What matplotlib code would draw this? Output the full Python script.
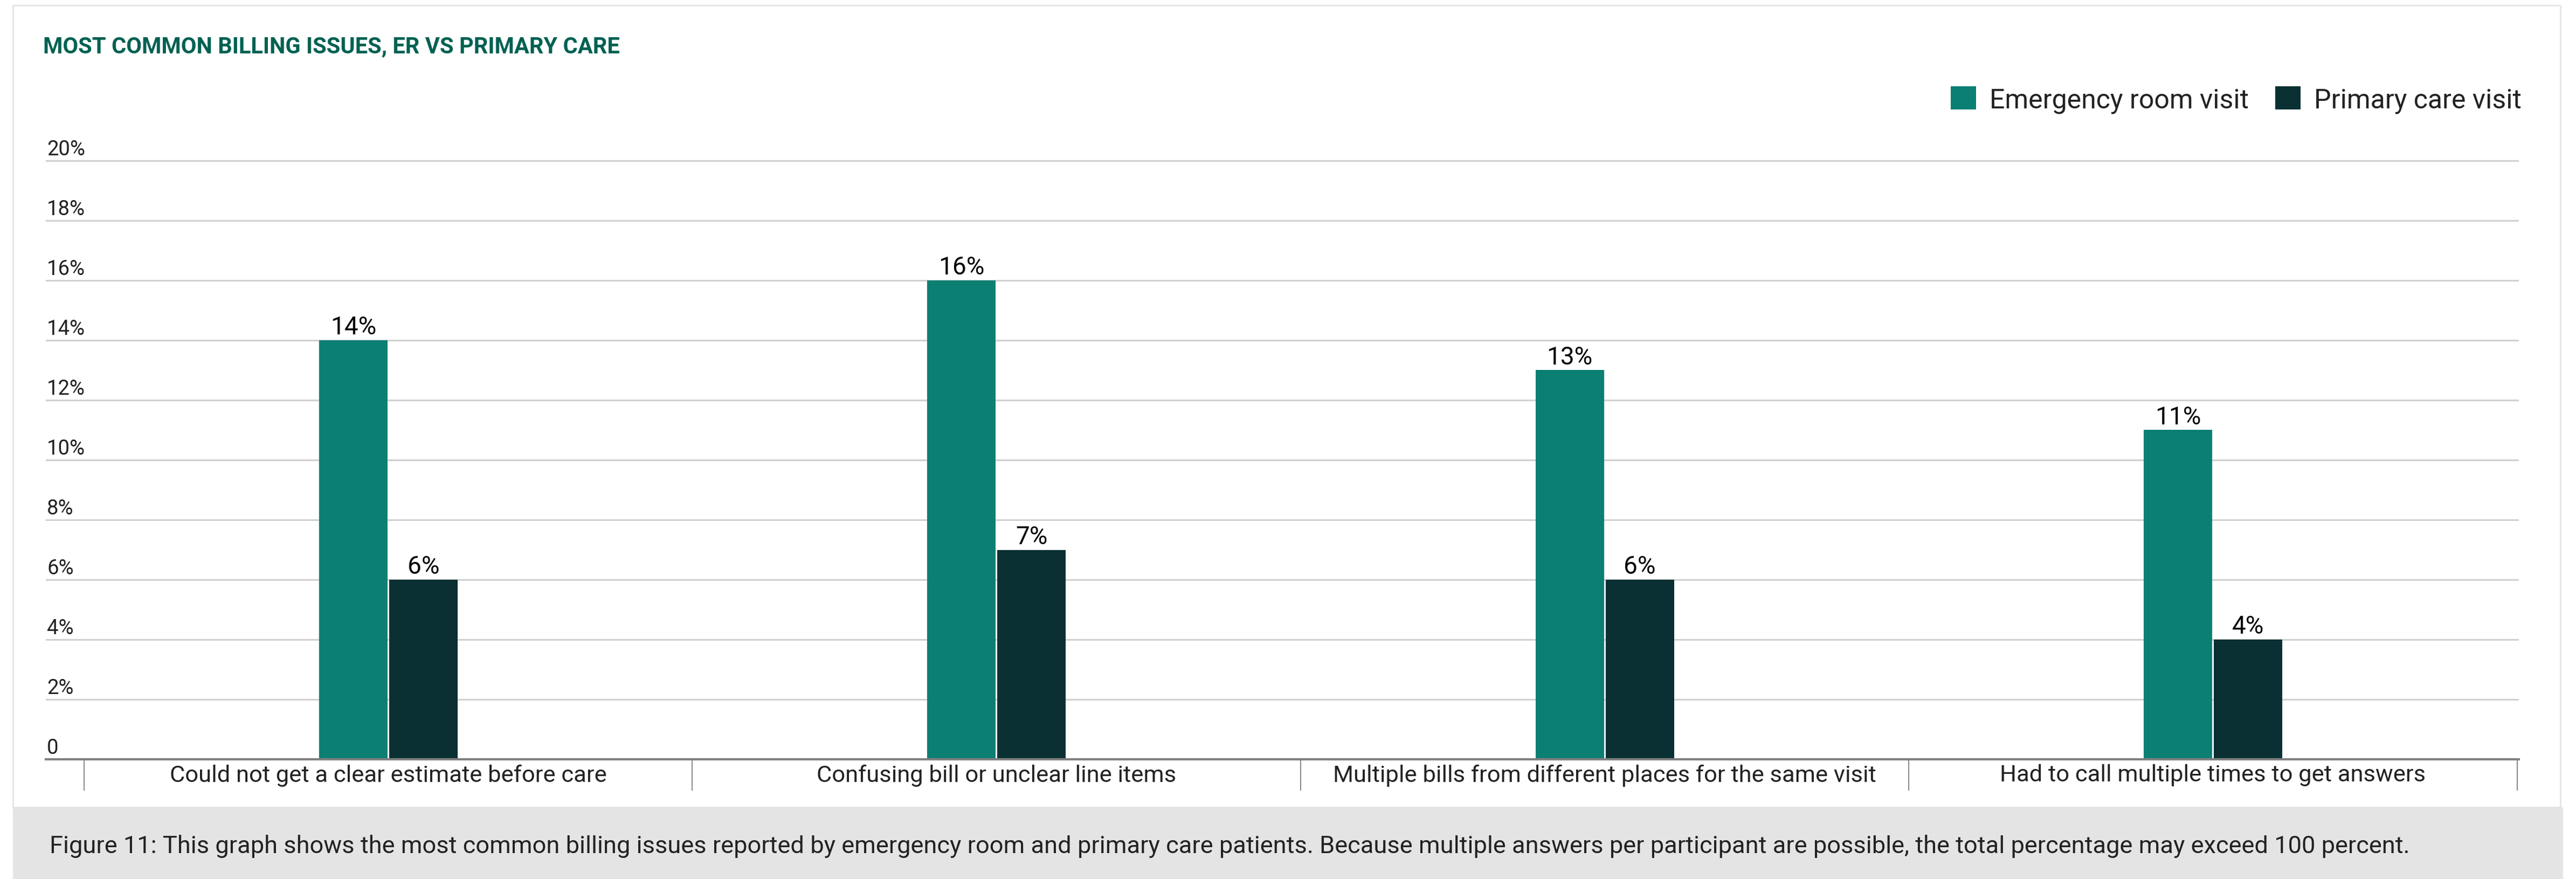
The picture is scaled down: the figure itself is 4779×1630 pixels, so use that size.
import numpy as np
import matplotlib
matplotlib.use("Agg")
import matplotlib.pyplot as plt
import matplotlib.font_manager as fm
from matplotlib.patches import Rectangle

# data
categories = ["Could not get a clear estimate before care",
              "Confusing bill or unclear line items",
              "Multiple bills from different places for the same visit",
              "Had to call multiple times to get answers"]
er_visit = [14, 16, 13, 11]
pc_visit = [6, 7, 6, 4]
series_names = ["Emergency room visit", "Primary care visit"]
y_ticks = [0, 2, 4, 6, 8, 10, 12, 14, 16, 18, 20]
y_tick_labels = ["0", "2%", "4%", "6%", "8%", "10%", "12%", "14%", "16%", "18%", "20%"]
title = "MOST COMMON BILLING ISSUES, ER VS PRIMARY CARE"
caption = ("Figure 11: This graph shows the most common billing issues reported by emergency room "
           "and primary care patients. Because multiple answers per participant are possible, "
           "the total percentage may exceed 100 percent.")

ER_COLOR = "#0c7f73"
PC_COLOR = "#0a3033"
TITLE_COLOR = "#006152"
TEXT = "#222222"


def has_font(name):
    try:
        fm.findfont(fm.FontProperties(family=name), fallback_to_default=False)
        return True
    except ValueError:
        return False


# a narrow face for the title and the bar values if there is one
if has_font("Liberation Sans Narrow"):
    NARROW, title_size, value_size = "Liberation Sans Narrow", 34, 35
else:
    NARROW, title_size, value_size = "Roboto", 30, 33

plt.rcParams["font.family"] = ["Roboto", "DejaVu Sans"]

W, H = 4779, 1631
fig = plt.figure(figsize=(W / 100, H / 100), dpi=100)
fig.patch.set_facecolor("white")

# white panel with light border, grey caption band (behind the axes)
fig.patches.append(Rectangle((24 / W, 1 - 1498 / H), (4750 - 24) / W, (1498 - 11) / H,
                             transform=fig.transFigure, facecolor="white",
                             edgecolor="#e6e6e6", lw=2.2, zorder=-5))
fig.patches.append(Rectangle((24 / W, 0), (4755 - 24) / W, (H - 1498) / H,
                             transform=fig.transFigure, facecolor="#e4e4e4",
                             edgecolor="none", zorder=-5))

# axes: 0 at y=1409px, 2% per 55.5px
px_per_unit = 55.5
ytop = 20.1
ax = fig.add_axes([85 / W, 1 - 1409 / H, (4673 - 85) / W, px_per_unit * ytop / H])
ax.set_facecolor("none")
ax.set_zorder(1)
ax.set_ylim(0, ytop)
ax.set_xlim(-0.563, 3.503)

x = np.arange(len(categories))
bw = 0.1125
off = 0.0576
b1 = ax.bar(x - off, er_visit, width=bw, color=ER_COLOR, label=series_names[0])
b2 = ax.bar(x + off, pc_visit, width=bw, color=PC_COLOR, label=series_names[1])

for bars, vals in ((b1, er_visit), (b2, pc_visit)):
    for rect, v in zip(bars, vals):
        ax.annotate(f"{v}%", (rect.get_x() + rect.get_width() / 2, v),
                    xytext=(0, 8.6), textcoords="offset points",
                    ha="center", va="baseline", fontsize=value_size,
                    family=NARROW, color="black")

# grid and y labels sitting above the lines
ax.set_axisbelow(True)
ax.set_yticks(y_ticks)
ax.yaxis.grid(True, color="#d0d0d0", lw=2.2)
ax.tick_params(axis="y", length=0, labelleft=False)
for v, lab in zip(y_ticks, y_tick_labels):
    ax.annotate(lab, (0.0005, v), xycoords=ax.get_yaxis_transform(),
                xytext=(0, 8), textcoords="offset points",
                ha="left", va="baseline", fontsize=27.5, color=TEXT)

for s in ("left", "right", "top"):
    ax.spines[s].set_visible(False)
ax.spines["bottom"].set_color("#808080")
ax.spines["bottom"].set_linewidth(3)

# separators as major ticks, category names as minor tick labels
ax.set_xticks(np.arange(len(categories) + 1) - 0.5)
ax.tick_params(axis="x", which="major", length=42, width=1.1, color="#666666",
               direction="out", labelbottom=False)
ax.set_xticks(x, minor=True)
ax.set_xticklabels(categories, minor=True)
ax.tick_params(axis="x", which="minor", length=0, pad=6, labelsize=31.3, labelcolor=TEXT)

fig.text(80 / W, 1 - 98 / H, title, ha="left", va="baseline", fontsize=title_size,
         fontweight="bold", family=NARROW, color=TITLE_COLOR)

fig.legend(handles=[b1, b2], labels=series_names, loc="center left",
           bbox_to_anchor=(3619 / W, 1 - 186 / H), ncol=2, frameon=False,
           fontsize=36, handlelength=0.94, handleheight=0.94, handletextpad=0.5,
           columnspacing=0.98, borderpad=0, borderaxespad=0, labelcolor=TEXT)

fig.text(92 / W, 1 - 1582 / H, caption, ha="left", va="baseline", fontsize=32.6, color=TEXT)

fig.savefig("out.png", dpi=100, facecolor="white")
